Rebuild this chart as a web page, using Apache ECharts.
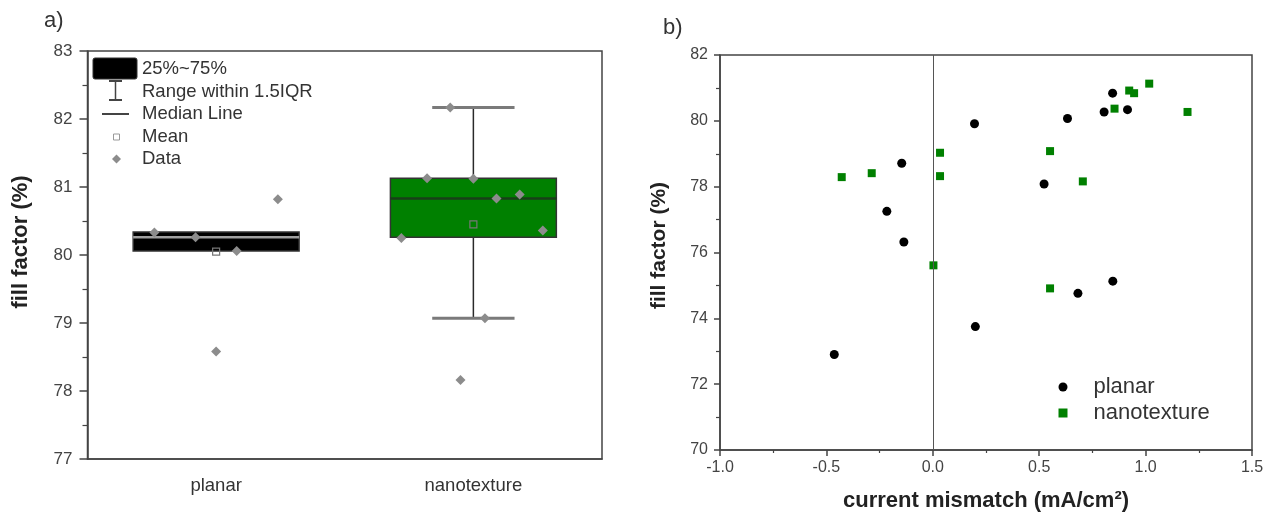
<!DOCTYPE html>
<html><head><meta charset="utf-8">
<script src="https://cdn.jsdelivr.net/npm/echarts@6/dist/echarts.min.js"></script>
<style>html,body{margin:0;padding:0;background:#fff}#c{width:1282px;height:521px}</style>
</head><body><div id="c"></div>
<script>
// ---------- panel a) data ----------
const categories = ['planar', 'nanotexture'];
const ffTicksA = [77, 78, 79, 80, 81, 82, 83];
// [lower whisker, Q1, median, Q3, upper whisker]
const planarBox = [80.06, 80.06, 80.26, 80.34, 80.34];
const nanoBox = [79.07, 80.26, 80.83, 81.13, 82.17];
const boxMeans = [80.05, 80.45];
const planarData = [80.33, 80.26, 80.06, 80.82, 78.58];
const planarJitter = [-0.24, -0.08, 0.08, 0.24, 0];
const nanoData = [80.25, 81.13, 82.17, 78.16, 81.12, 79.07, 80.83, 80.89, 80.36];
const nanoJitter = [-0.28, -0.18, -0.09, -0.05, 0, 0.045, 0.09, 0.18, 0.27];
const legendA = ['25%~75%', 'Range within 1.5IQR', 'Median Line', 'Mean', 'Data'];

// ---------- panel b) data ----------
const mismatchTicks = [-1.0, -0.5, 0.0, 0.5, 1.0, 1.5];
const ffTicksB = [70, 72, 74, 76, 78, 80, 82];
const planarMismatch = [-0.463, -0.216, -0.146, -0.136, 0.196, 0.200, 0.523, 0.633, 0.682, 0.805, 0.845, 0.846, 0.915];
const planarFF = [72.90, 77.25, 78.71, 76.32, 79.91, 73.75, 78.08, 80.07, 74.76, 80.27, 80.84, 75.13, 80.34];
const nanoMismatch = [-0.428, -0.287, 0.003, 0.034, 0.034, 0.551, 0.551, 0.705, 0.854, 0.923, 0.946, 1.017, 1.197];
const nanoFF = [78.29, 78.41, 75.61, 79.03, 78.32, 79.08, 74.91, 78.16, 80.37, 80.92, 80.84, 81.13, 80.27];

// ---------- styles ----------
const FONT = '"Liberation Sans", Arial, sans-serif';
const AX = '#444';
const boxStyle = [
  { fill: '#000000', median: '#a0a0a0' },
  { fill: '#008000', median: '#183f18' }
];

const boxSeriesData = [[0].concat(planarBox), [1].concat(nanoBox)];
const dataPoints = planarData.map((v, i) => [planarJitter[i], v])
  .concat(nanoData.map((v, i) => [1 + nanoJitter[i], v]));
const meanPoints = boxMeans.map((v, i) => [i, v]);

function renderBox(params, api) {
  const i = api.value(0);
  const lo = api.value(1), q1 = api.value(2), med = api.value(3), q3 = api.value(4), hi = api.value(5);
  const bw = api.size([0.645, 0])[0];
  const cw = api.size([0.32, 0])[0];
  const pQ1 = api.coord([i, q1]), pQ3 = api.coord([i, q3]);
  const pMed = api.coord([i, med]), pLo = api.coord([i, lo]), pHi = api.coord([i, hi]);
  const cx = pQ1[0];
  const st = boxStyle[params.dataIndex];
  const ch = [];
  if (hi > q3) {
    ch.push({ type: 'line', shape: { x1: cx, y1: pQ3[1], x2: cx, y2: pHi[1] }, style: { stroke: '#2a2a2a', lineWidth: 1.5 } });
  }
  if (lo < q1) {
    ch.push({ type: 'line', shape: { x1: cx, y1: pQ1[1], x2: cx, y2: pLo[1] }, style: { stroke: '#2a2a2a', lineWidth: 1.5 } });
  }
  ch.push({ type: 'rect', shape: { x: cx - bw / 2, y: pQ3[1], width: bw, height: pQ1[1] - pQ3[1] },
    style: { fill: st.fill, stroke: '#333', lineWidth: 1.5 } });
  ch.push({ type: 'line', shape: { x1: cx - bw / 2, y1: pMed[1], x2: cx + bw / 2, y2: pMed[1] },
    style: { stroke: st.median, lineWidth: 2.5 } });
  if (hi > q3) {
    ch.push({ type: 'line', shape: { x1: cx - cw / 2, y1: pHi[1], x2: cx + cw / 2, y2: pHi[1] }, style: { stroke: '#7a7a7a', lineWidth: 3 } });
  }
  if (lo < q1) {
    ch.push({ type: 'line', shape: { x1: cx - cw / 2, y1: pLo[1], x2: cx + cw / 2, y2: pLo[1] }, style: { stroke: '#7a7a7a', lineWidth: 3 } });
  }
  return { type: 'group', children: ch };
}

const chart = echarts.init(document.getElementById('c'), null, { renderer: 'canvas' });
const tickLabelA = { color: '#444', fontSize: 17, fontFamily: FONT };
const tickLabelB = { color: '#444', fontSize: 16, fontFamily: FONT };

const legendTextY = [69, 92, 114, 137, 159];
const graphicEls = [
  { type: 'text', left: 44, top: 10, style: { text: 'a)', font: '22px ' + FONT, fill: '#333' } },
  { type: 'text', left: 663, top: 17, style: { text: 'b)', font: '22px ' + FONT, fill: '#333' } },
  { type: 'rect', shape: { x: 93, y: 58, width: 44, height: 21, r: 2 }, style: { fill: '#000', stroke: '#333', lineWidth: 1 } },
  { type: 'line', shape: { x1: 115.5, y1: 80, x2: 115.5, y2: 100 }, style: { stroke: '#444', lineWidth: 1.5 } },
  { type: 'line', shape: { x1: 109, y1: 81, x2: 122, y2: 81 }, style: { stroke: '#444', lineWidth: 2 } },
  { type: 'line', shape: { x1: 109, y1: 100, x2: 122, y2: 100 }, style: { stroke: '#444', lineWidth: 2 } },
  { type: 'line', shape: { x1: 102, y1: 114, x2: 129, y2: 114 }, style: { stroke: '#444', lineWidth: 2 } },
  { type: 'rect', shape: { x: 113.5, y: 134, width: 6, height: 6 }, style: { fill: '#fff', stroke: '#999', lineWidth: 1 } },
  { type: 'polygon', shape: { points: [[116.5, 154.5], [121, 159], [116.5, 163.5], [112, 159]] }, style: { fill: '#8c8c8c' } }
];
legendA.forEach((t, i) => {
  graphicEls.push({ type: 'text', x: 142, y: legendTextY[i],
    style: { text: t, font: '18.5px ' + FONT, fill: '#333', verticalAlign: 'middle' } });
});

const option = {
  animation: false,
  backgroundColor: '#fff',
  textStyle: { fontFamily: FONT },
  grid: [
    { left: 87.5, top: 51, width: 514.5, height: 408, show: true, borderColor: AX, borderWidth: 1.5, backgroundColor: 'transparent' },
    { left: 720, top: 55, width: 532, height: 395, show: true, borderColor: AX, borderWidth: 1.5, backgroundColor: 'transparent' }
  ],
  xAxis: [
    { type: 'category', gridIndex: 0, data: categories, boundaryGap: true,
      axisLine: { onZero: false, lineStyle: { color: AX, width: 1.5 } },
      axisTick: { alignWithLabel: true, length: 6, lineStyle: { color: AX, width: 1.5 } },
      axisLabel: { color: '#333', fontSize: 18.5, fontFamily: FONT, margin: 17 },
      splitLine: { show: false } },
    { type: 'value', gridIndex: 0, min: -0.5, max: 1.5, show: false },
    { type: 'value', gridIndex: 1, min: mismatchTicks[0], max: mismatchTicks[mismatchTicks.length - 1],
      interval: mismatchTicks[1] - mismatchTicks[0],
      name: 'current mismatch (mA/cm²)', nameLocation: 'middle', nameGap: 40,
      nameTextStyle: { fontSize: 22, fontWeight: 'bold', color: '#222', fontFamily: FONT },
      axisLine: { onZero: false, lineStyle: { color: AX, width: 1.5 } },
      axisTick: { length: 6, lineStyle: { color: AX, width: 1.5 } },
      minorTick: { show: true, splitNumber: 2, length: 3, lineStyle: { color: AX, width: 1.2 } },
      axisLabel: { ...tickLabelB, margin: 10, formatter: v => v.toFixed(1) },
      splitLine: { show: false } }
  ],
  yAxis: [
    { type: 'value', gridIndex: 0, min: ffTicksA[0], max: ffTicksA[ffTicksA.length - 1], interval: ffTicksA[1] - ffTicksA[0],
      name: 'fill factor (%)', nameLocation: 'middle', nameGap: 56, nameRotate: 90,
      nameTextStyle: { fontSize: 22, fontWeight: 'bold', color: '#222', fontFamily: FONT, padding: [0, 0, 0, 26] },
      axisLine: { show: true, onZero: false, lineStyle: { color: AX, width: 1.5 } },
      axisTick: { show: true, length: 8, lineStyle: { color: AX, width: 1.5 } },
      minorTick: { show: true, splitNumber: 2, length: 5, lineStyle: { color: AX, width: 1.2 } },
      axisLabel: { ...tickLabelA, margin: 15 },
      splitLine: { show: false } },
    { type: 'value', gridIndex: 1, min: ffTicksB[0], max: ffTicksB[ffTicksB.length - 1], interval: ffTicksB[1] - ffTicksB[0],
      name: 'fill factor (%)', nameLocation: 'middle', nameGap: 50, nameRotate: 90,
      nameTextStyle: { fontSize: 21, fontWeight: 'bold', color: '#222', fontFamily: FONT, padding: [0, 0, 0, 14] },
      axisLine: { show: true, onZero: false, lineStyle: { color: AX, width: 1.5 } },
      axisTick: { show: true, length: 6, lineStyle: { color: AX, width: 1.5 } },
      minorTick: { show: true, splitNumber: 2, length: 4, lineStyle: { color: AX, width: 1.2 } },
      axisLabel: { ...tickLabelB, margin: 12 },
      splitLine: { show: false } }
  ],
  legend: {
    data: ['planar', 'nanotexture'], orient: 'vertical', left: 1058.5, top: 374, padding: 0,
    itemWidth: 9, itemHeight: 9, itemGap: 0,
    textStyle: { fontSize: 22, color: '#333', fontFamily: FONT, lineHeight: 26, padding: [0, 0, 0, 21] }
  },
  graphic: graphicEls,
  series: [
    { name: 'boxes', type: 'custom', xAxisIndex: 1, yAxisIndex: 0, renderItem: renderBox, data: boxSeriesData, z: 2, silent: true },
    { name: 'Mean', type: 'scatter', xAxisIndex: 1, yAxisIndex: 0, data: meanPoints, symbol: 'rect', symbolSize: 7,
      itemStyle: { color: 'transparent', borderColor: '#777', borderWidth: 1.2, opacity: 1 }, z: 3 },
    { name: 'Data', type: 'scatter', xAxisIndex: 1, yAxisIndex: 0, data: dataPoints, symbol: 'diamond', symbolSize: 10,
      itemStyle: { color: '#8c8c8c', opacity: 1 }, z: 4 },
    { name: 'planar', type: 'scatter', xAxisIndex: 2, yAxisIndex: 1,
      data: planarMismatch.map((x, i) => [x, planarFF[i]]), symbol: 'circle', symbolSize: 9,
      itemStyle: { color: '#000', opacity: 1 }, z: 4,
      markLine: { silent: true, symbol: 'none', label: { show: false },
        lineStyle: { color: '#555', width: 1, type: 'solid' }, data: [{ xAxis: 0 }] } },
    { name: 'nanotexture', type: 'scatter', xAxisIndex: 2, yAxisIndex: 1,
      data: nanoMismatch.map((x, i) => [x, nanoFF[i]]), symbol: 'rect', symbolSize: 8,
      itemStyle: { color: '#008000', opacity: 1 }, z: 4 }
  ]
};
chart.setOption(option);
</script></body></html>
